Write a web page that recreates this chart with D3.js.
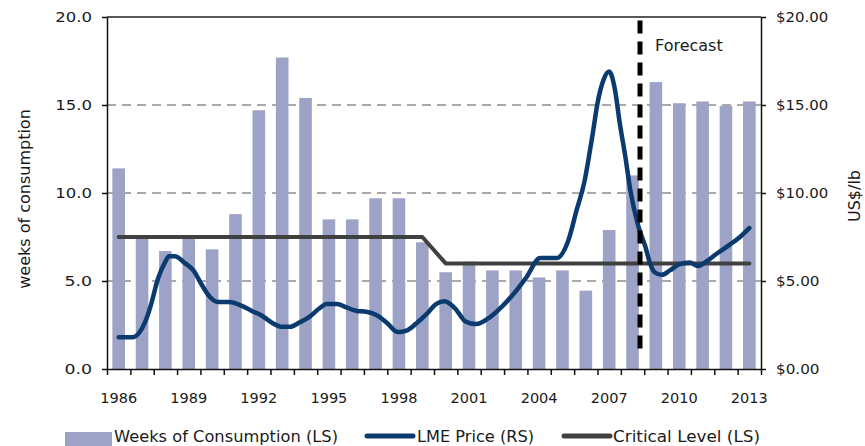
<!DOCTYPE html>
<html><head><meta charset="utf-8">
<script src="https://cdn.jsdelivr.net/npm/d3@7"></script>
<style>body{margin:0;background:#fff}text{font-family:"DejaVu Sans",sans-serif;fill:#1a1a1a}</style>
</head><body>
<svg id="c" width="865" height="446"></svg>
<script>
// ---------- data ----------
const years = [1986,1987,1988,1989,1990,1991,1992,1993,1994,1995,1996,1997,1998,1999,
               2000,2001,2002,2003,2004,2005,2006,2007,2008,2009,2010,2011,2012,2013];
const weeks = [11.4,7.4,6.7,7.6,6.8,8.8,14.7,17.7,15.4,8.5,8.5,9.7,9.7,7.2,
               5.5,6.1,5.6,5.6,5.2,5.6,4.45,7.9,11.0,16.3,15.1,15.2,14.95,15.2];
const critYears = [1986, 1999, 2000, 2013];
const critValues = [7.5, 7.5, 6.0, 6.0];
const priceTimes = [1986.0,1986.6,1986.9,1987.2,1987.35,1987.7,1988.0,1988.15,1988.4,1988.85,
  1989.2,1989.55,1989.9,1990.25,1990.75,1991.25,1991.7,1992.1,1992.6,1992.95,1993.35,1993.75,
  1994.15,1994.6,1994.9,1995.35,1995.75,1996.2,1996.6,1997.05,1997.5,1997.95,1998.35,1998.75,
  1999.2,1999.6,1999.95,2000.4,2000.85,2001.3,2001.9,2002.45,2003.05,2003.45,2004.05,2004.75,
  2005.25,2005.6,2005.95,2006.1,2006.3,2006.5,2006.75,2007.0,2007.25,2007.45,2007.7,2007.9,
  2008.25,2008.55,2008.75,2008.95,2009.25,2009.6,2010.0,2010.45,2010.8,2011.15,2011.6,2012.15,
  2012.6,2013.0];
const priceValues = [1.8,1.8,2.1,2.9,3.5,5.2,6.1,6.4,6.4,6.0,
  5.6,4.8,4.1,3.8,3.8,3.6,3.3,3.05,2.6,2.4,2.4,2.65,
  2.95,3.45,3.7,3.7,3.5,3.3,3.25,3.05,2.6,2.1,2.2,2.6,
  3.15,3.7,3.85,3.45,2.7,2.55,2.95,3.6,4.5,5.2,6.3,6.3,
  7.3,9.0,10.7,11.8,13.4,15.1,16.4,16.9,15.85,14.0,12.0,10.2,
  8.1,6.95,6.0,5.5,5.35,5.6,5.95,6.05,5.85,6.1,6.55,7.05,
  7.5,8.0];
const leftTicks = [0, 5, 10, 15, 20];
const leftTickLabels = ["0.0", "5.0", "10.0", "15.0", "20.0"];
const rightTicks = [0, 5, 10, 15, 20];
const rightTickLabels = ["$0.00", "$5.00", "$10.00", "$15.00", "$20.00"];
const yearLabels = [1986,1989,1992,1995,1998,2001,2004,2007,2010,2013];
const forecastAt = 2008.32;
const forecastSpan = [0.8, 19.8];
const gridValues = [5, 10, 15];

// ---------- layout ----------
const M = {l:107, r:761, t:17, b:369};
const barColor = "#9da3c6", priceColor = "#0b3a6e", critColor = "#404040";
const svg = d3.select("#c");

const xBand = d3.scaleBand().domain(years).range([M.l, M.r]).paddingInner(0.46).paddingOuter(0.23);
const xT = d3.scaleLinear().domain([years[0]-0.5, years[years.length-1]+0.5]).range([M.l, M.r]);
const yL = d3.scaleLinear().domain([0,20]).range([M.b, M.t]);
const yR = d3.scaleLinear().domain([0,20]).range([M.b, M.t]);

// grid
svg.append("g").selectAll("line").data(gridValues).join("line")
  .attr("x1", M.l).attr("x2", M.r).attr("y1", d=>yL(d)).attr("y2", d=>yL(d))
  .attr("stroke", "#555").attr("stroke-width", 1).attr("stroke-dasharray", "9,6");

// bars
svg.append("g").selectAll("rect").data(years).join("rect")
  .attr("x", d=>xBand(d)).attr("width", xBand.bandwidth())
  .attr("y", (d,i)=>yL(weeks[i])).attr("height", (d,i)=>yL(0)-yL(weeks[i]))
  .attr("fill", barColor);

// critical level
const crit = critYears.map((y,i)=>[y, critValues[i]]);
svg.append("path").datum(crit)
  .attr("d", d3.line().x(d=>xT(d[0])).y(d=>yL(d[1])))
  .attr("fill","none").attr("stroke", critColor).attr("stroke-width", 4)
  .attr("stroke-linecap","round").attr("stroke-linejoin","round");

// LME price
const price = priceTimes.map((t,i)=>[t, priceValues[i]]);
svg.append("path").datum(price)
  .attr("d", d3.line().x(d=>xT(d[0])).y(d=>yR(d[1])).curve(d3.curveMonotoneX))
  .attr("fill","none").attr("stroke", priceColor).attr("stroke-width", 4.5)
  .attr("stroke-linecap","round").attr("stroke-linejoin","round");

// forecast divider
svg.append("line")
  .attr("x1", xT(forecastAt)).attr("x2", xT(forecastAt))
  .attr("y1", yR(forecastSpan[1])).attr("y2", yR(forecastSpan[0]))
  .attr("stroke", "#000").attr("stroke-width", 5).attr("stroke-dasharray", "13,8");
svg.append("text").attr("x", xT(forecastAt)+15).attr("y", 51)
  .attr("font-size", 16).text("Forecast");

// top border
svg.append("line").attr("x1", M.l).attr("x2", M.r).attr("y1", M.t).attr("y2", M.t)
  .attr("stroke", "#222").attr("stroke-width", 1.5);

// left axis
const gL = svg.append("g").attr("transform", `translate(${M.l},0)`)
  .call(d3.axisLeft(yL).tickValues(leftTicks).tickSize(5).tickSizeOuter(0).tickPadding(10)
    .tickFormat((d,i)=>leftTickLabels[i]));
gL.selectAll("text").attr("font-size", 13.5).attr("font-family", "DejaVu Sans").attr("fill", "#1a1a1a")
  .attr("textLength", (d,i)=>leftTickLabels[i].length*9.2).attr("lengthAdjust","spacingAndGlyphs");
// right axis
const gR = svg.append("g").attr("transform", `translate(${M.r},0)`)
  .call(d3.axisRight(yR).tickValues(rightTicks).tickSize(5).tickSizeOuter(0).tickPadding(10)
    .tickFormat((d,i)=>rightTickLabels[i]));
gR.selectAll("text").attr("font-size", 14).attr("font-family", "DejaVu Sans").attr("fill", "#1a1a1a")
  .attr("textLength", (d,i)=>rightTickLabels[i].length*8.7).attr("lengthAdjust","spacingAndGlyphs");
// bottom axis ticks
const boundaries = years.map(y=>y-0.5).concat([years[years.length-1]+0.5]);
const gB = svg.append("g").attr("transform", `translate(0,${M.b})`)
  .call(d3.axisBottom(xT).tickValues(boundaries).tickSize(6).tickSizeOuter(0).tickFormat(""));
const gBL = svg.append("g").attr("transform", `translate(0,${M.b})`)
  .call(d3.axisBottom(xBand).tickValues(yearLabels).tickSize(0).tickPadding(24));
gBL.select(".domain").remove();
gBL.selectAll("text").attr("font-size", 14.5).attr("font-family", "DejaVu Sans").attr("fill", "#1a1a1a");
[gL, gR, gB].forEach(g=>{
  g.selectAll("line").attr("stroke", "#111").attr("stroke-width", 1.5);
  g.select(".domain").attr("stroke", "#111").attr("stroke-width", 1.5);
});

// axis titles
svg.append("text").attr("transform", `translate(30,${(M.t+M.b)/2 + 6}) rotate(-90)`)
  .attr("text-anchor","middle").attr("font-size", 16).text("weeks of consumption");
svg.append("text").attr("transform", `translate(860,${(M.t+M.b)/2 + 3}) rotate(-90)`)
  .attr("text-anchor","middle").attr("font-size", 16).text("US$/lb");

// legend
const lg = svg.append("g");
lg.append("rect").attr("x", 65).attr("y", 432).attr("width", 47).attr("height", 14).attr("fill", barColor);
lg.append("text").attr("x", 114).attr("y", 441.5).attr("font-size", 16.5)
  .attr("textLength", 224).attr("lengthAdjust","spacingAndGlyphs").text("Weeks of Consumption (LS)");
lg.append("line").attr("x1", 367).attr("x2", 413).attr("y1", 436).attr("y2", 436)
  .attr("stroke", priceColor).attr("stroke-width", 5).attr("stroke-linecap","round");
lg.append("text").attr("x", 417).attr("y", 441.5).attr("font-size", 16.5)
  .attr("textLength", 117).attr("lengthAdjust","spacingAndGlyphs").text("LME Price (RS)");
lg.append("line").attr("x1", 564).attr("x2", 610).attr("y1", 436).attr("y2", 436)
  .attr("stroke", critColor).attr("stroke-width", 5).attr("stroke-linecap","round");
lg.append("text").attr("x", 613).attr("y", 441.5).attr("font-size", 16.5)
  .attr("textLength", 147).attr("lengthAdjust","spacingAndGlyphs").text("Critical Level (LS)");
</script>
</body></html>
